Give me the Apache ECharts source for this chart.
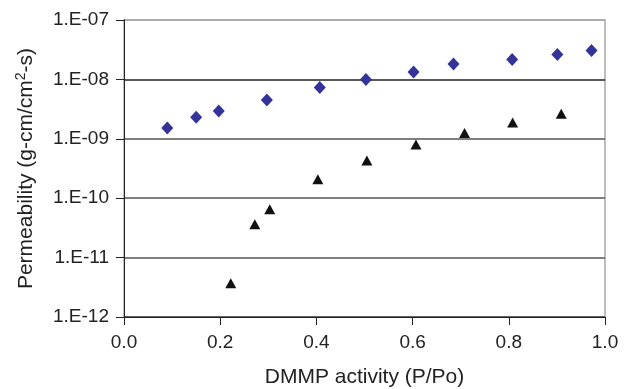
<!DOCTYPE html>
<html>
<head>
<meta charset="utf-8">
<script src="https://cdn.jsdelivr.net/npm/echarts@6/dist/echarts.min.js"></script>
<style>
  html, body { margin: 0; padding: 0; background: #fff; }
  #main { width: 628px; height: 389px; }
</style>
</head>
<body>
<div id="main"></div>
<script>
// diamonds (blue)
const diamondX = [0.09, 0.15, 0.197, 0.297, 0.407, 0.503, 0.602, 0.685, 0.807, 0.901, 0.972];
const diamondY = [1.52e-9, 2.3e-9, 2.93e-9, 4.5e-9, 7.3e-9, 1.0e-8, 1.33e-8, 1.81e-8, 2.17e-8, 2.63e-8, 3.07e-8];

// triangles (black)
const triangleX = [0.222, 0.272, 0.303, 0.403, 0.505, 0.607, 0.708, 0.808, 0.909];
const triangleY = [3.7e-12, 3.66e-11, 6.5e-11, 2.09e-10, 4.3e-10, 8.0e-10, 1.25e-9, 1.89e-9, 2.65e-9];

const xTicks = [0, 0.2, 0.4, 0.6, 0.8, 1.0];

const font = "Liberation Sans, Arial, sans-serif";

const chart = echarts.init(document.getElementById("main"));

const option = {
  animation: false,
  grid: {
    left: 124,
    right: 23,
    top: 20,
    bottom: 72,
    outerBoundsMode: "none",
    containLabel: false,
    show: true,
    borderColor: "#a8a8a8",
    borderWidth: 1.5,
  },
  xAxis: {
    type: "value",
    min: xTicks[0],
    max: xTicks[xTicks.length - 1],
    interval: 0.2,
    name: "DMMP activity (P/Po)",
    nameLocation: "middle",
    nameGap: 50,
    nameTextStyle: { fontFamily: font, fontSize: 21, color: "#222" },
    axisLine: { lineStyle: { color: "#222", width: 1 } },
    axisTick: { show: true, inside: false, length: 8, lineStyle: { color: "#222" } },
    axisLabel: {
      fontFamily: font,
      fontSize: 19,
      color: "#222",
      margin: 16,
      formatter: (v) => v.toFixed(1),
    },
    splitLine: { show: false },
  },
  yAxis: {
    type: "log",
    logBase: 10,
    min: 1e-12,
    max: 1e-7,
    name: "Permeability (g-cm/cm{sup|2}-s)",
    nameLocation: "middle",
    nameGap: 86,
    nameRotate: 90,
    nameTextStyle: {
      fontFamily: font,
      fontSize: 21,
      color: "#222",
      rich: {
        sup: { fontFamily: font, fontSize: 14, color: "#222", verticalAlign: "top", padding: [0, 0, 10, 0] },
      },
    },
    axisLine: { show: true, lineStyle: { color: "#222", width: 1 } },
    axisTick: { show: true, inside: false, length: 8, lineStyle: { color: "#222" } },
    axisLabel: {
      fontFamily: font,
      fontSize: 19,
      color: "#222",
      margin: 15,
      formatter: (v) => {
        const e = Math.round(Math.log10(v));
        const abs = Math.abs(e);
        return "1.E-" + (abs < 10 ? "0" + abs : abs);
      },
    },
    splitLine: {
      show: true,
      lineStyle: { color: ["#444", "#555", "#555", "#555", "#222", "#a8a8a8"], width: 1.5 },
    },
  },
  series: [
    {
      type: "scatter",
      symbol: "diamond",
      symbolSize: [12, 13],
      itemStyle: { color: "#333399", opacity: 1 },
      data: diamondX.map((x, i) => [x, diamondY[i]]),
    },
    {
      type: "scatter",
      symbol: "triangle",
      symbolSize: [11, 10],
      itemStyle: { color: "#111", opacity: 1 },
      data: triangleX.map((x, i) => [x, triangleY[i]]),
    },
  ],
};

chart.setOption(option);
</script>
</body>
</html>
